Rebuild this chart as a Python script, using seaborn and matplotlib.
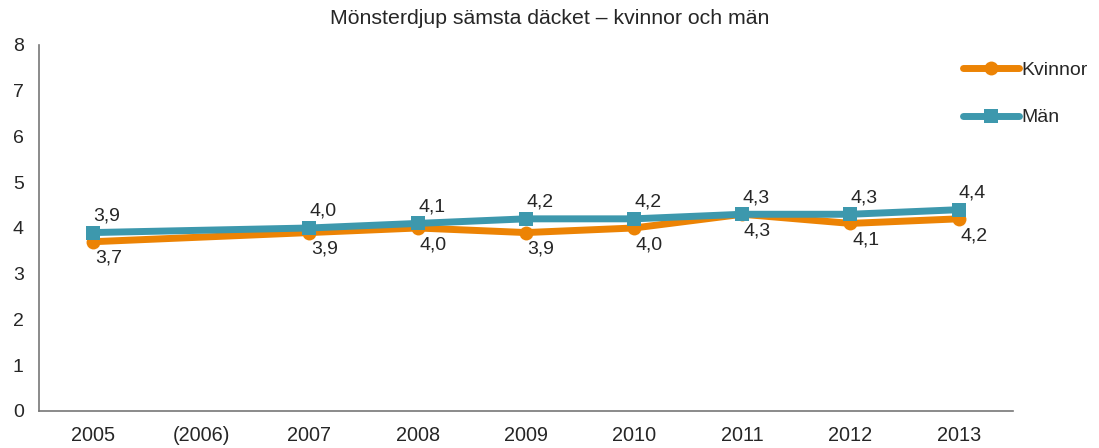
import pandas as pd
import numpy as np
import matplotlib.pyplot as plt
import seaborn as sns

# data
years = ['2005', '(2006)', '2007', '2008', '2009', '2010', '2011', '2012', '2013']
kvinnor = [3.7, np.nan, 3.9, 4.0, 3.9, 4.0, 4.3, 4.1, 4.2]
man = [3.9, np.nan, 4.0, 4.1, 4.2, 4.2, 4.3, 4.3, 4.4]

sns.set_style('white')
plt.rcParams['font.family'] = ['Liberation Sans', 'DejaVu Sans']

pos = np.arange(len(years))
df = pd.concat([
    pd.DataFrame({'pos': pos, 'value': kvinnor, 'serie': 'Kvinnor'}),
    pd.DataFrame({'pos': pos, 'value': man, 'serie': 'Män'}),
]).dropna()

colors = {'Kvinnor': '#EC8304', 'Män': '#3D98AD'}
markers = {'Kvinnor': 'o', 'Män': 's'}

fig = plt.figure(figsize=(10.99, 4.48), dpi=100)
ax = fig.add_axes([0.0355, 0.0826, 0.886, 0.817])

sns.lineplot(data=df, x='pos', y='value', hue='serie', style='serie',
             palette=colors, markers=markers, dashes=False, linewidth=5,
             markersize=10, markeredgewidth=0, ax=ax, sort=False)

# data labels: Män above, Kvinnor below
for i, v in enumerate(man):
    if not np.isnan(v):
        ax.annotate(f'{v:.1f}'.replace('.', ','), (i, v), xytext=(10, 12),
                    textcoords='offset points', ha='center', va='center', fontsize=14)
for i, v in enumerate(kvinnor):
    if not np.isnan(v):
        ax.annotate(f'{v:.1f}'.replace('.', ','), (i, v), xytext=(11, -12),
                    textcoords='offset points', ha='center', va='center', fontsize=14)

ax.set_xlim(-0.5, len(years) - 0.5)
ax.set_ylim(0, 8)
ax.set_yticks(range(0, 9))
ax.set_xticks(np.arange(-0.5, len(years), 1.0))
ax.set_xticklabels([])
ax.set_xticks(pos, minor=True)
ax.set_xticklabels(years, minor=True)
ax.tick_params(axis='x', which='minor', length=0, pad=11, labelsize=14.3)
ax.tick_params(axis='x', which='major', length=5, width=1, color='#555555', direction='out')
ax.tick_params(axis='y', length=5, width=1, color='#555555', direction='out', labelsize=14, pad=6)
ax.set_xlabel('')
ax.set_ylabel('')

for side in ['top', 'right']:
    ax.spines[side].set_visible(False)
for side in ['left', 'bottom']:
    ax.spines[side].set_color('#777777')
    ax.spines[side].set_linewidth(1.2)

fig.text(0.5, 1 - 18 / 448, 'Mönsterdjup sämsta däcket – kvinnor och män',
         ha='center', va='center', fontsize=15.3)

ax.get_legend().remove()
handles, labels = ax.get_legend_handles_labels()
fig.legend(handles, labels, loc='upper left', bbox_to_anchor=(963 / 1099, 1 - 61 / 448),
           frameon=False, fontsize=14, handlelength=2.9, handletextpad=0.1,
           labelspacing=1.55, borderpad=0, borderaxespad=0)

fig.savefig('out.png', dpi=100)
